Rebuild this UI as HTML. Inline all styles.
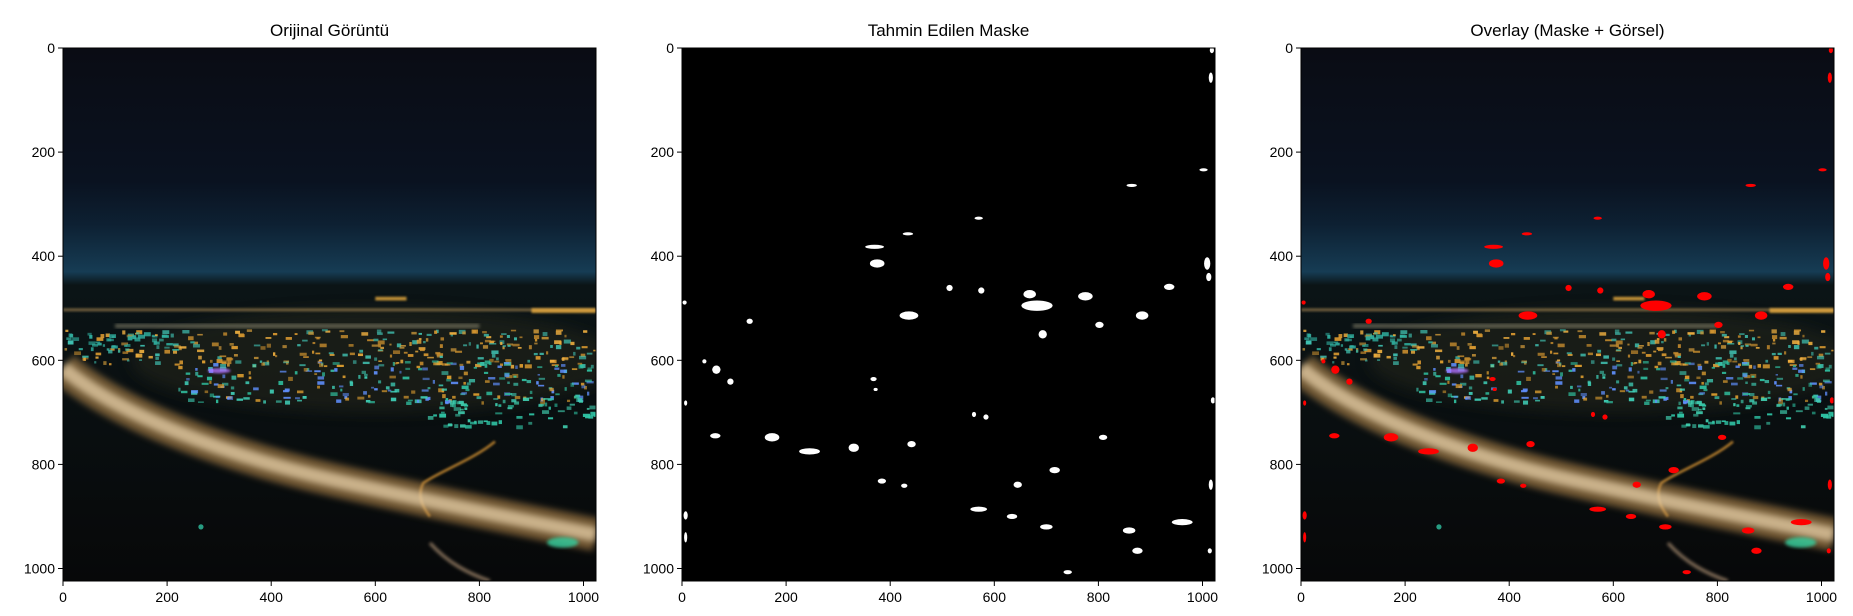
<!DOCTYPE html>
<html><head><meta charset="utf-8">
<style>
html,body{margin:0;padding:0;background:#fff;}
body{width:1853px;height:616px;position:relative;overflow:hidden;font-family:"Liberation Sans","DejaVu Sans",sans-serif;}
svg{position:absolute;left:0;top:0;}
</style></head>
<body>
<svg id="fig" width="1853" height="616" viewBox="0 0 1853 616">
<defs>
  <filter id="blur6" x="-20%" y="-20%" width="140%" height="140%"><feGaussianBlur stdDeviation="6"/></filter>
  <filter id="blur3" x="-20%" y="-20%" width="140%" height="140%"><feGaussianBlur stdDeviation="3"/></filter>
  <filter id="blur2" x="-50%" y="-50%" width="200%" height="200%"><feGaussianBlur stdDeviation="2"/></filter>
  <filter id="blur14" x="-30%" y="-30%" width="160%" height="160%"><feGaussianBlur stdDeviation="14"/></filter>
  <linearGradient id="sky" x1="0" y1="0" x2="0" y2="1">
    <stop offset="0" stop-color="#0a0c14"/>
    <stop offset="0.25" stop-color="#0a1220"/>
    <stop offset="0.33" stop-color="#0d2032"/>
    <stop offset="0.42" stop-color="#163c54"/>
    <stop offset="0.445" stop-color="#0b1416"/>
    <stop offset="1" stop-color="#070809"/>
  </linearGradient>
  <radialGradient id="glow" cx="1" cy="0.5" r="0.5">
    <stop offset="0" stop-color="#d07a48" stop-opacity="0.75"/>
    <stop offset="1" stop-color="#d07a48" stop-opacity="0"/>
  </radialGradient>
  <g id="photo">
    <rect x="0" y="0" width="1024" height="1024" fill="url(#sky)"/>
    <ellipse cx="1024" cy="432" rx="300" ry="22" fill="url(#glow)"/>
    <ellipse cx="600" cy="600" rx="470" ry="100" fill="#2a2a1a" opacity="0.45" filter="url(#blur14)"/>
    <rect x="0" y="500" width="1024" height="6" fill="#c8a060" opacity="0.5" filter="url(#blur2)"/>
    <rect x="100" y="530" width="700" height="8" fill="#b8b090" opacity="0.45" filter="url(#blur3)"/>
    <rect x="600" y="478" width="60" height="7" fill="#f0b040" opacity="0.8" filter="url(#blur2)"/>
    <rect x="900" y="500" width="124" height="9" fill="#f0b040" opacity="0.8" filter="url(#blur2)"/>
    <g id="lights"></g>
    <ellipse cx="300" cy="620" rx="22" ry="5" fill="#b070ff" opacity="0.8" filter="url(#blur2)"/>
    <path d="M830,756 C790,790 720,815 692,836 C680,860 690,880 705,900" fill="none" stroke="#d09030" stroke-width="5" opacity="0.8" filter="url(#blur2)"/>
    <path d="M0,615 C100,700 300,780 520,830 S900,910 1024,935" fill="none" stroke="#c09050" stroke-width="64" opacity="0.55" filter="url(#blur6)"/>
    <path d="M0,615 C100,700 300,780 520,830 S900,910 1024,935" fill="none" stroke="#e8d0a8" stroke-width="28" opacity="0.75" filter="url(#blur6)"/>
    <path d="M705,951 C740,990 780,1010 820,1024" fill="none" stroke="#c0a080" stroke-width="6" opacity="0.7" filter="url(#blur3)"/>
    <ellipse cx="960" cy="950" rx="30" ry="10" fill="#30d0a0" opacity="0.8" filter="url(#blur3)"/>
    <circle cx="265" cy="920" r="5" fill="#30c0a0" opacity="0.8"/>
  </g>
</defs>
<g id="panels"></g>
</svg>
<script>
const blobX = [375,370,434,570,864,1002,1016,1018,668,682,775,884,936,1009,1012,436,575,514,693,802,130,5,66,93,43,64,173,245,330,441,584,645,716,809,570,634,700,859,961,875,741,384,427,7,7,1020,1016,1014,368,372,561,7];
const blobY = [414,382,357,327,264,234,57,4,473,495,477,514,459,414,440,514,466,461,550,532,525,489,618,641,602,745,748,775,768,761,709,839,811,748,886,900,920,927,911,966,1007,832,841,898,940,677,839,966,636,656,704,682];
const blobW = [14,18,10,8,10,8,4,4,12,30,14,12,10,6,5,18,6,6,8,8,6,4,8,6,4,10,14,20,10,8,5,8,10,8,16,10,12,12,20,10,8,8,6,4,3,4,4,4,6,4,4,3];
const blobH = [8,4,3,3,3,3,10,6,8,10,8,8,6,12,8,8,6,6,8,6,5,4,8,6,4,5,8,6,8,6,5,6,6,5,5,5,5,6,6,6,4,5,4,8,10,6,10,5,4,3,5,5];
const tickVals = [0,200,400,600,800,1000];
const titles = ["Orijinal Görüntü","Tahmin Edilen Maske","Overlay (Maske + Görsel)"];
const panelLeft = [63,682,1301];
const TOP = 48, SIZE = 533, N = 1024;
const NS = "http://www.w3.org/2000/svg";
function mk(tag, attrs, parent){ const e=document.createElementNS(NS,tag); for(const k in attrs) e.setAttribute(k,attrs[k]); parent.appendChild(e); return e; }
// city light texture (decorative)
(function(){
  const L = document.getElementById('lights');
  let s = 12345; const rnd=()=>{ s=(s*1103515245+12345)%2147483648; return s/2147483648; };
  const regions = [
    {x0:0,x1:1024,y0:540,y1:610,c:['#f0b040','#d89830','#40c0b0']},
    {x0:220,x1:1024,y0:600,y1:680,c:['#40d0b8','#30c0a0','#e0a030','#6090ff']},
    {x0:700,x1:1024,y0:670,y1:725,c:['#40d0b0','#30c8a8']},
    {x0:0,x1:250,y0:545,y1:580,c:['#30b0a0']}
  ];
  regions.forEach(r=>{
    const n = Math.round((r.x1-r.x0)*(r.y1-r.y0)/260);
    for(let i=0;i<n;i++){
      mk('rect',{x:r.x0+rnd()*(r.x1-r.x0),y:r.y0+rnd()*(r.y1-r.y0),width:4+rnd()*10,height:3+rnd()*5,fill:r.c[Math.floor(rnd()*r.c.length)],opacity:0.55+rnd()*0.4},L);
    }
  });
})();
const root = document.getElementById('panels');
function sx(p, v){ return panelLeft[p] + v * SIZE / N; }
function sy(v){ return TOP + v * SIZE / N; }
titles.forEach((t,p)=>{
  const g = mk('g',{},root);
  
  
  const cp = mk('clipPath',{id:'cp'+p},g);
  mk('rect',{x:0,y:0,width:N,height:N},cp);
  const img = mk('g',{transform:`translate(${panelLeft[p]},${TOP}) scale(${SIZE/N})`,'clip-path':`url(#cp${p})`},g);
  
  
  if(p===1){ mk('rect',{x:0,y:0,width:N,height:N,fill:'#000'},img); }
  else { mk('use',{href:'#photo'},img); }
  if(p>0){
    blobX.forEach((x,i)=>{
      const b = mk('ellipse',{cx:x,cy:blobY[i],rx:blobW[i],ry:blobH[i],fill:p===1?'#fff':'#ff0000'},img);
      
      
    });
  }
  const fr = mk('rect',{x:panelLeft[p],y:TOP,width:SIZE,height:SIZE,fill:'none',stroke:'#000','stroke-width':1},g);
  
  
  const tt = mk('text',{x:panelLeft[p]+SIZE/2,y:36,'text-anchor':'middle','font-size':17,fill:'#000'},g);
  tt.textContent = t;
  
  
  tickVals.forEach(v=>{
    const x = sx(p,v);
    mk('line',{x1:x,x2:x,y1:TOP+SIZE,y2:TOP+SIZE+5,stroke:'#000','stroke-width':1},g);
    const lx = mk('text',{x:x,y:TOP+SIZE+21,'text-anchor':'middle','font-size':14,fill:'#000'},g);
    lx.textContent = v;
    
    
    const y = sy(v);
    mk('line',{x1:panelLeft[p]-5,x2:panelLeft[p],y1:y,y2:y,stroke:'#000','stroke-width':1},g);
    const ly = mk('text',{x:panelLeft[p]-8,y:y+5,'text-anchor':'end','font-size':14,fill:'#000'},g);
    ly.textContent = v;
    
    
  });
});
</script>
</body></html>
